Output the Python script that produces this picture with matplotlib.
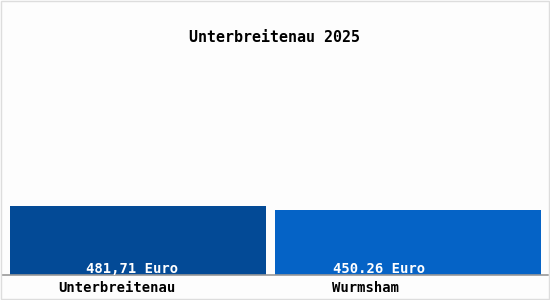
import matplotlib.pyplot as plt
from matplotlib.patches import Rectangle

# data
places = ['Unterbreitenau', 'Wurmsham']
values = [481.71, 450.26]
value_labels = ['481,71 Euro', '450.26 Euro']
title = 'Unterbreitenau 2025'

colors = ['#034a96', '#0563c6']
mono = ['DejaVu Sans Mono']

fig = plt.figure(figsize=(5.5, 3), dpi=100, facecolor='#fdfdfd')
# axes: x from 2px to 548px, y from 275px (bottom) up to 60px
ax = fig.add_axes([2 / 550, 25 / 300, 546 / 550, 215 / 300])
ax.set_facecolor('#fdfdfd')

xs = list(range(len(values)))
widths = [0.948, 0.985]
ax.bar(xs, values, width=widths, color=colors, zorder=2)

ax.set_xlim(-0.504, 1.519)
ax.set_ylim(0, 1500)

# value labels inside the bars, near the bottom
label_shift = [-0.022, -0.107]
for x, v, lab, dx in zip(xs, values, value_labels, label_shift):
    ax.text(x + dx, 12, lab, ha='center', va='baseline', color='white',
            fontsize=10, fontweight='bold', family=mono, zorder=3)

# category labels under the axis line
cat_shift = [-0.08, -0.156]
for x, name, dx in zip(xs, places, cat_shift):
    ax.text(x + dx, -117, name, ha='center', va='baseline', color='black',
            fontsize=10, fontweight='bold', family=mono, clip_on=False)

for s in ['top', 'right', 'left']:
    ax.spines[s].set_visible(False)
ax.spines['bottom'].set_color('#999999')
ax.spines['bottom'].set_linewidth(1.2)
ax.set_xticks([])
ax.set_yticks([])

fig.text(274.5 / 550, 1 - 38 / 300, title, ha='center', va='center',
         fontsize=10.8, fontweight='bold', family=mono)

# thin frame round the picture
fig.patches.append(Rectangle((0.002, 0.003), 0.996, 0.994, transform=fig.transFigure,
                             fill=False, edgecolor='#dddddd', linewidth=1))

fig.savefig('out.png', dpi=100, facecolor=fig.get_facecolor())
